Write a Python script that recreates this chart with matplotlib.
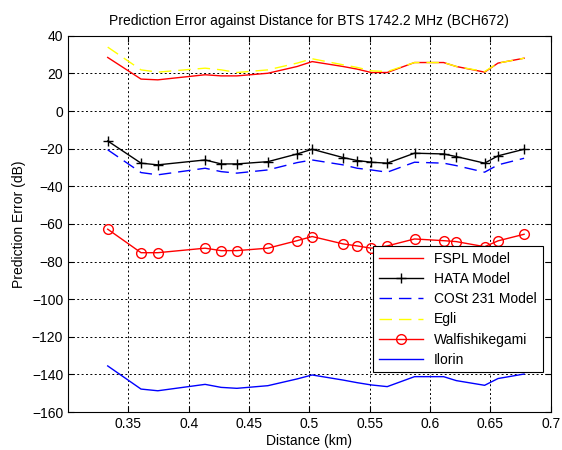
import matplotlib
matplotlib.use("Agg")
import matplotlib.pyplot as plt

plt.rcParams['font.family'] = ['Liberation Sans', 'DejaVu Sans']

distance = [0.3329, 0.3605, 0.3744, 0.4136, 0.4269, 0.4399, 0.4656, 0.4899, 0.5023,
            0.5278, 0.5396, 0.5512, 0.5645, 0.5871, 0.6112, 0.6217, 0.6452, 0.6563, 0.6779]

fspl = [28.5, 17.0, 16.6, 19.3, 18.7, 18.7, 20.1, 23.7, 26.3, 23.7, 22.3, 20.5, 20.5,
        25.8, 25.8, 23.7, 20.7, 25.5, 28.1]
hata = [-15.9, -27.7, -28.6, -26.0, -28.1, -28.1, -26.9, -22.8, -20.3, -24.7, -26.3,
        -27.2, -27.7, -22.4, -22.8, -24.2, -27.7, -23.8, -20.3]
cost231 = [-20.6, -32.7, -33.9, -30.4, -32.2, -33.0, -31.3, -27.4, -26.0, -28.6, -30.4,
           -31.3, -32.5, -27.2, -27.7, -29.0, -32.5, -28.6, -25.1]
egli = [34.0, 21.9, 20.7, 22.8, 21.9, 20.5, 21.9, 25.5, 27.8, 24.6, 23.2, 21.4, 21.0,
        25.8, 25.8, 23.7, 21.0, 25.5, 28.1]
walfish = [-62.8, -75.3, -75.3, -72.9, -74.2, -74.2, -72.9, -68.9, -66.7, -70.6, -71.7,
           -72.9, -71.7, -68.0, -68.9, -69.4, -72.1, -69.0, -65.5]
ilorin = [-135.5, -147.8, -148.7, -145.3, -146.9, -147.4, -146.0, -142.4, -140.3, -143.0,
          -144.4, -145.6, -146.5, -141.2, -141.2, -143.3, -145.8, -142.2, -139.8]

labels = ['FSPL Model', 'HATA Model', 'COSt 231 Model', 'Egli', 'Walfishikegami', 'Ilorin']
xticks = [0.35, 0.4, 0.45, 0.5, 0.55, 0.6, 0.65, 0.7]
yticks = list(range(-160, 41, 20))

fig = plt.figure(figsize=(5.62, 4.5), dpi=100)
ax = fig.add_axes([0.121, 0.0844, 0.859, 0.836])

ax.plot(distance, fspl, color='#ff0000', lw=1.0, label=labels[0])
ax.plot(distance, hata, color='black', lw=1.0, marker='+', ms=7.5, mew=1.0, label=labels[1])
ax.plot(distance, cost231, color='#0000ff', lw=1.0, ls=(0, (9, 5)), label=labels[2])
ax.plot(distance, egli, color='#ffff00', lw=1.0, ls=(0, (9, 5)), label=labels[3])
ax.plot(distance, walfish, color='#ff0000', lw=1.0, marker='o', ms=7, mfc='none',
        mew=1.0, label=labels[4])
ax.plot(distance, ilorin, color='#0000ff', lw=1.0, label=labels[5])

ax.set_xlim(0.3, 0.7)
ax.set_ylim(-160, 40)
ax.set_xticks(xticks)
ax.set_xticklabels([f'{t:g}' for t in xticks])
ax.set_yticks(yticks)
ax.tick_params(direction='in', top=True, right=True, labelsize=10, length=4, width=0.8)
ax.grid(True, color='black', ls=(0, (2, 2.5)), lw=0.7)
for s in ax.spines.values():
    s.set_linewidth(0.8)

ax.set_title('Prediction Error against Distance for BTS 1742.2 MHz (BCH672)', fontsize=10, pad=8)
ax.set_xlabel('Distance (km)', fontsize=10, labelpad=2)
ax.set_ylabel('Prediction Error (dB)', fontsize=10)

leg = ax.legend(loc='upper right', bbox_to_anchor=(0.983, 0.441), borderaxespad=0,
                fancybox=False, edgecolor='black', framealpha=1, fontsize=10,
                handlelength=3.2, labelspacing=0.45, borderpad=0.4)
leg.get_frame().set_linewidth(0.8)

fig.savefig('out.png', dpi=100)
